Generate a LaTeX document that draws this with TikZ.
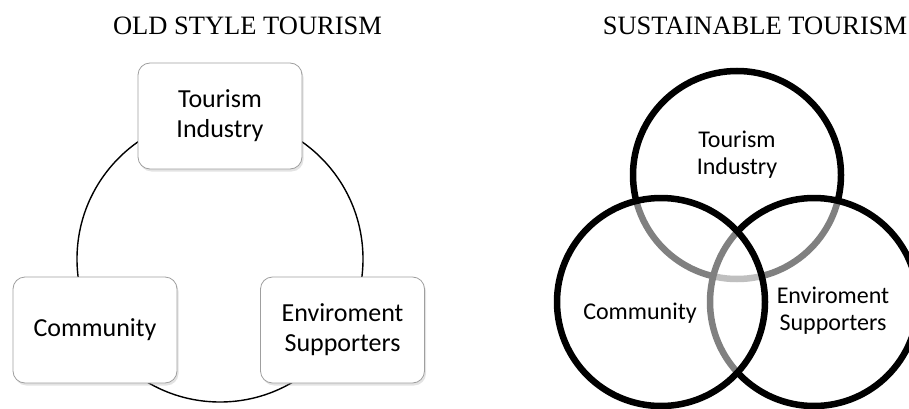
\documentclass[tikz,border=0pt]{standalone}
\usepackage{fontspec}
\setmainfont{Liberation Serif}
\newfontfamily\boxfont{Carlito}
\usetikzlibrary{shadows}

\begin{document}
\begin{tikzpicture}[x=1pt,y=1pt,
    title/.style={anchor=base,inner sep=0pt,font=\fontsize{26.5}{30}\selectfont},
    oldbox/.style={draw=gray!75,line width=0.8pt,fill=white,rounded corners=12pt,
        minimum width=164pt,minimum height=106pt,align=center,
        font=\boxfont\fontsize{26}{30}\selectfont,
        drop shadow={opacity=0.22,shadow xshift=1.5pt,shadow yshift=-2.5pt}},
    venn/.style={circle,draw=black,line width=6.5pt,fill=white,fill opacity=0.5,
        draw opacity=1,minimum size=208pt,inner sep=0pt,outer sep=0pt},
    venntext/.style={align=center,inner sep=0pt,text opacity=1,
        font=\boxfont\fontsize{24}{27}\selectfont}]
    \useasboundingbox (0,0) rectangle (909,-409);
    % old style
    \node [title] (oldtitle) at (247.5,-35) {OLD STYLE TOURISM};
    \coordinate (ring) at (220,-259);
    \draw [black,line width=1.4pt] (ring) circle (143pt);
    \node [oldbox] (oldind) at (220,-116) {Tourism\\Industry};
    \node [oldbox] (oldcom) at (95,-330) {Community};
    \node [oldbox] (oldenv) at (342.5,-330) {Enviroment\\Supporters};
    % sustainable
    \node [title] (newtitle) at (755,-35) {SUSTAINABLE TOURISM};
    \node [venn] (newind) at (737,-175) {};
    \node [venn] (newenv) at (814,-302) {};
    \node [venn] (newcom) at (661,-302) {};
    \node [venntext] (indtext) at (737,-155) {Tourism\\Industry};
    \node [venntext] (comtext) at (640,-313) {Community};
    \node [venntext] (envtext) at (833,-311) {Enviroment\\Supporters};
\end{tikzpicture}
\end{document}
